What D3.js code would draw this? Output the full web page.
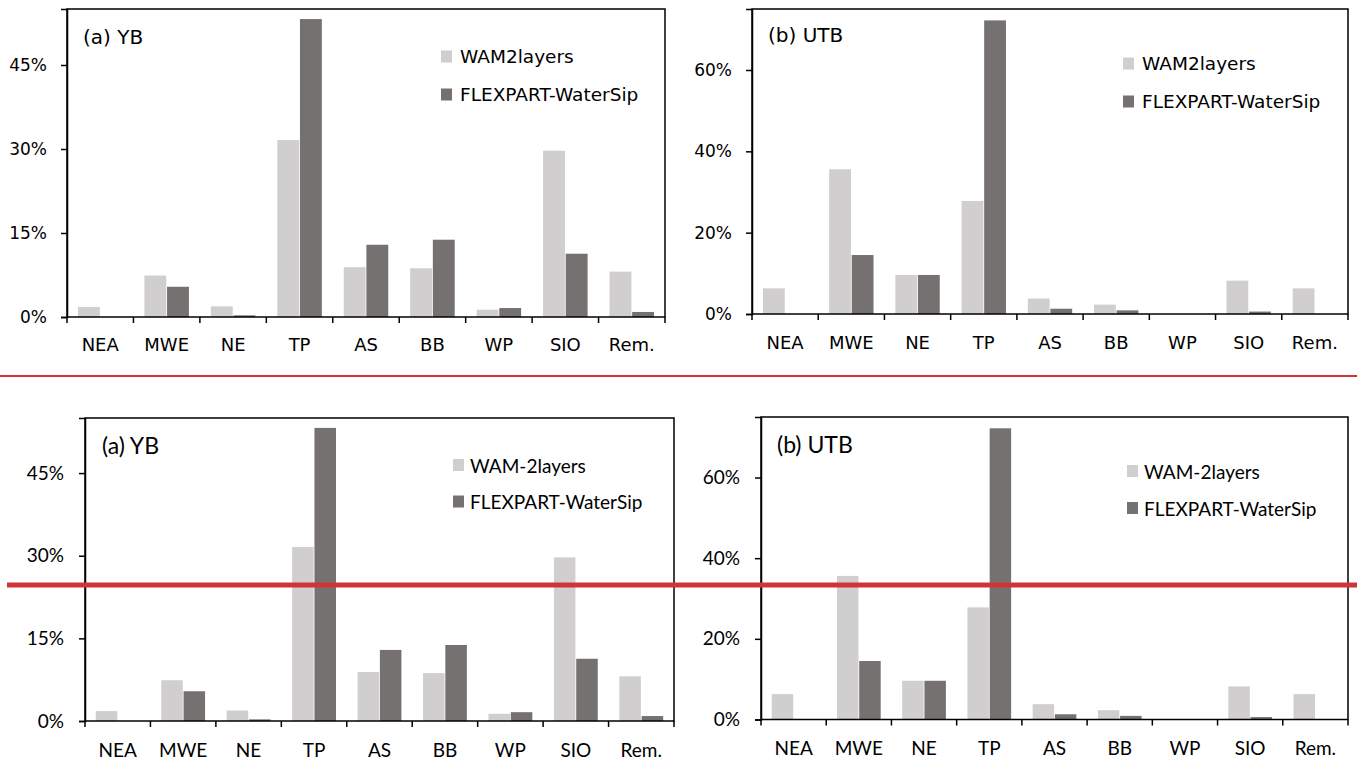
<!DOCTYPE html>
<html>
<head>
<meta charset="utf-8">
<script src="https://cdn.jsdelivr.net/npm/d3@7"></script>
<style>
  body { margin: 0; background: #fff; }
  svg { display: block; }
</style>
</head>
<body>
<script>
// categories (moisture source regions)
var categories = ["NEA", "MWE", "NE", "TP", "AS", "BB", "WP", "SIO", "Rem."];

// YB basin, percent contribution
var ybWam  = [1.8, 7.4, 1.9, 31.6, 8.9, 8.7, 1.3, 29.7, 8.1];
var ybFlex = [0.0, 5.4, 0.3, 53.2, 12.9, 13.8, 1.6, 11.3, 0.9];

// UTB basin, percent contribution
var utbWam  = [6.3, 35.6, 9.6, 27.8, 3.8, 2.3, 0.0, 8.2, 6.3];
var utbFlex = [0.0, 14.5, 9.6, 72.2, 1.3, 0.9, 0.0, 0.6, 0.0];

var ybTicks  = [0, 15, 30, 45];
var utbTicks = [0, 20, 40, 60];

var topNames    = ["WAM2layers", "FLEXPART-WaterSip"];
var bottomNames = ["WAM-2layers", "FLEXPART-WaterSip"];

var colors = ["#d0cece", "#767171"];

var W = 1357, H = 758;
var svg = d3.select("body").append("svg")
    .attr("width", W)
    .attr("height", H);

function drawPanel(p) {
  var g = svg.append("g");
  var x0 = d3.scaleBand().domain(categories).range([p.left, p.right]);
  var bw = x0.bandwidth();
  var x1 = d3.scaleBand().domain([0, 1])
      .range([bw * 0.165, bw * 0.835])
      .paddingInner(0.035);
  var y = d3.scaleLinear().domain([0, p.max]).range([p.bottom, p.top]);

  var rows = categories.map(function(c, i) {
    return {cat: c, vals: [p.wam[i], p.flex[i]]};
  });

  // bars
  var grp = g.selectAll("g.cat").data(rows).enter().append("g")
      .attr("class", "cat")
      .attr("transform", function(d) { return "translate(" + x0(d.cat) + ",0)"; });
  grp.selectAll("rect").data(function(d) { return d.vals; }).enter().append("rect")
      .attr("x", function(d, i) { return x1(i); })
      .attr("width", x1.bandwidth())
      .attr("y", function(d) { return y(d); })
      .attr("height", function(d) { return p.bottom - y(d); })
      .attr("fill", function(d, i) { return colors[i]; });

  // frame
  g.append("rect")
      .attr("x", p.left).attr("y", p.top)
      .attr("width", p.right - p.left).attr("height", p.bottom - p.top)
      .attr("fill", "none").attr("stroke", "#000").attr("stroke-width", 1.5);

  // y axis
  var yAxis = d3.axisLeft(y).tickValues(p.ticks)
      .tickFormat(function(d) { return d + "%"; })
      .tickSize(6).tickPadding(p.tickPad);
  var ya = g.append("g").attr("transform", "translate(" + p.left + ",0)").call(yAxis);
  ya.select(".domain").attr("stroke", "#000").attr("stroke-width", 1.5);
  ya.selectAll(".tick line").attr("stroke", "#000").attr("stroke-width", 1.5);
  ya.selectAll("text").attr("fill", "#000")
      .style("font-family", p.font).style("font-size", p.fsTick + "px");

  // x axis: ticks at category boundaries
  var bounds = categories.map(function(c) { return x0(c); }).concat([p.right]);
  g.selectAll("line.xt").data(bounds).enter().append("line")
      .attr("x1", function(d) { return d; }).attr("x2", function(d) { return d; })
      .attr("y1", p.bottom).attr("y2", p.bottom + 6)
      .attr("stroke", "#000").attr("stroke-width", 1.5);
  g.selectAll("text.xl").data(categories).enter().append("text")
      .attr("x", function(d) { return x0(d) + bw / 2; })
      .attr("y", p.bottom + p.labelDy)
      .attr("text-anchor", "middle")
      .attr("dominant-baseline", "central")
      .style("font-family", p.font).style("font-size", p.fsCat + "px")
      .text(function(d) { return d; });

  // panel title
  g.append("text")
      .attr("x", p.titleX).attr("y", p.titleY)
      .attr("dominant-baseline", "central")
      .style("font-family", p.font).style("font-size", p.fsTitle + "px")
      .text(p.title);

  // legend
  p.names.forEach(function(n, i) {
    var ly = p.legY[i];
    g.append("rect")
        .attr("x", p.legX).attr("y", ly - 6)
        .attr("width", 11).attr("height", 12)
        .attr("fill", colors[i]);
    g.append("text")
        .attr("x", p.legX + p.legGap).attr("y", ly)
        .attr("dominant-baseline", "central")
        .style("font-family", p.font).style("font-size", p.fsLeg + "px")
        .text(n);
  });
}

var topFont = "'DejaVu Sans', Verdana, sans-serif";
var botFont = "Lato, 'Noto Sans', sans-serif";

drawPanel({left: 67, right: 665, top: 9, bottom: 317, max: 55, ticks: ybTicks,
  wam: ybWam, flex: ybFlex, names: topNames, title: "(a) YB", titleX: 83, titleY: 37,
  legX: 441, legY: [56.5, 94.5], legGap: 19, font: topFont,
  fsTick: 17, fsCat: 18, fsLeg: 18.5, fsTitle: 20, tickPad: 14, labelDy: 27});
drawPanel({left: 752, right: 1348, top: 9, bottom: 314, max: 75, ticks: utbTicks,
  wam: utbWam, flex: utbFlex, names: topNames, title: "(b) UTB", titleX: 768, titleY: 35,
  legX: 1123, legY: [63.5, 101.5], legGap: 19, font: topFont,
  fsTick: 17, fsCat: 18, fsLeg: 18.5, fsTitle: 20, tickPad: 14, labelDy: 28});
drawPanel({left: 85, right: 674, top: 418, bottom: 721, max: 55, ticks: ybTicks,
  wam: ybWam, flex: ybFlex, names: bottomNames, title: "(a) YB", titleX: 102, titleY: 445,
  legX: 453, legY: [465, 501.5], legGap: 17, font: botFont,
  fsTick: 19, fsCat: 19, fsLeg: 19, fsTitle: 23, tickPad: 15, labelDy: 28});
drawPanel({left: 761, right: 1348, top: 417, bottom: 719.5, max: 75, ticks: utbTicks,
  wam: utbWam, flex: utbFlex, names: bottomNames, title: "(b) UTB", titleX: 777, titleY: 443.5,
  legX: 1127, legY: [471, 508], legGap: 17, font: botFont,
  fsTick: 19, fsCat: 19, fsLeg: 19, fsTitle: 23, tickPad: 15, labelDy: 28});

// separator lines
svg.append("line").attr("x1", 0).attr("x2", W).attr("y1", 376).attr("y2", 376)
    .attr("stroke", "#d13438").attr("stroke-width", 2);
svg.append("line").attr("x1", 7).attr("x2", W).attr("y1", 585).attr("y2", 585)
    .attr("stroke", "#d13438").attr("stroke-width", 5);
</script>
</body>
</html>
